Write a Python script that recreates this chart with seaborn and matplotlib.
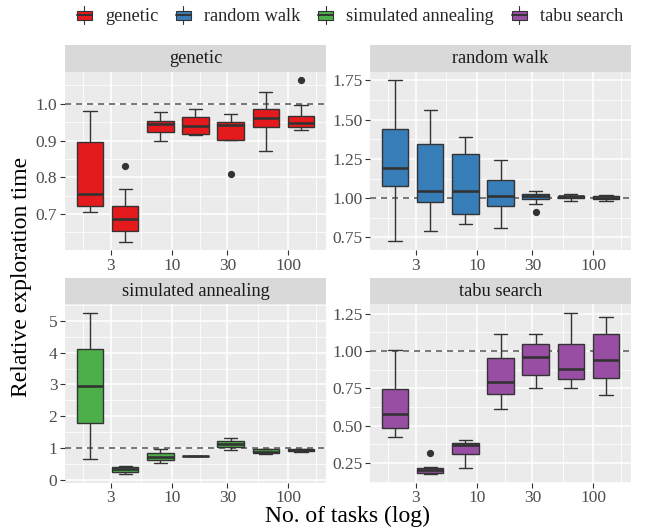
import numpy as np
import pandas as pd
import seaborn as sns
import matplotlib
matplotlib.use("Agg")
import matplotlib.pyplot as plt
import matplotlib.ticker as mticker
from matplotlib.patches import Rectangle
from matplotlib.lines import Line2D
from matplotlib.legend_handler import HandlerBase

# ---------------- data ----------------
tasks = [2, 4, 8, 16, 32, 64, 128]
algorithms = ["genetic", "random walk", "simulated annealing", "tabu search"]
colors = ["#E41A1C", "#377EB8", "#4DAF4A", "#984EA3"]

genetic_lo  = [0.705, 0.625, 0.898, 0.915, 0.902, 0.871, 0.930]
genetic_q1  = [0.722, 0.653, 0.922, 0.918, 0.902, 0.938, 0.938]
genetic_med = [0.755, 0.686, 0.946, 0.940, 0.942, 0.961, 0.949]
genetic_q3  = [0.897, 0.722, 0.954, 0.964, 0.950, 0.986, 0.967]
genetic_hi  = [0.980, 0.768, 0.979, 0.987, 0.972, 1.032, 0.996]
genetic_out = [None, 0.830, None, None, 0.809, None, 1.065]

rw_lo  = [0.725, 0.789, 0.836, 0.808, 0.964, 0.985, 0.983]
rw_q1  = [1.079, 0.974, 0.900, 0.949, 0.996, 1.002, 0.992]
rw_med = [1.192, 1.043, 1.047, 1.013, 1.015, 1.011, 1.002]
rw_q3  = [1.437, 1.347, 1.279, 1.115, 1.024, 1.015, 1.011]
rw_hi  = [1.750, 1.560, 1.390, 1.245, 1.043, 1.028, 1.022]
rw_out = [None, None, None, None, 0.915, None, None]

sa_lo  = [0.65, 0.18, 0.52, 0.74, 0.93, 0.82, 0.89]
sa_q1  = [1.80, 0.25, 0.61, 0.74, 1.02, 0.85, 0.905]
sa_med = [2.96, 0.33, 0.73, 0.745, 1.13, 0.89, 0.93]
sa_q3  = [4.12, 0.40, 0.86, 0.75, 1.22, 0.96, 0.96]
sa_hi  = [5.25, 0.44, 0.96, 0.75, 1.31, 0.98, 0.975]
sa_out = [None, None, None, None, None, None, None]

ts_lo  = [0.420, 0.173, 0.214, 0.611, 0.751, 0.751, 0.706]
ts_q1  = [0.483, 0.184, 0.312, 0.712, 0.840, 0.809, 0.820]
ts_med = [0.578, 0.202, 0.369, 0.793, 0.960, 0.879, 0.942]
ts_q3  = [0.748, 0.218, 0.386, 0.955, 1.049, 1.047, 1.115]
ts_hi  = [1.009, 0.225, 0.403, 1.112, 1.115, 1.256, 1.227]
ts_out = [None, 0.319, None, None, None, None, None]

stats = {
    "genetic": (genetic_lo, genetic_q1, genetic_med, genetic_q3, genetic_hi, genetic_out),
    "random walk": (rw_lo, rw_q1, rw_med, rw_q3, rw_hi, rw_out),
    "simulated annealing": (sa_lo, sa_q1, sa_med, sa_q3, sa_hi, sa_out),
    "tabu search": (ts_lo, ts_q1, ts_med, ts_q3, ts_hi, ts_out),
}

y_ticks = {
    "genetic": [0.7, 0.8, 0.9, 1.0],
    "random walk": [0.75, 1.00, 1.25, 1.50, 1.75],
    "simulated annealing": [0, 1, 2, 3, 4, 5],
    "tabu search": [0.25, 0.50, 0.75, 1.00, 1.25],
}
y_fmt = {"genetic": "{:.1f}", "random walk": "{:.2f}",
         "simulated annealing": "{:.0f}", "tabu search": "{:.2f}"}
y_lims = {"genetic": (0.602, 1.0875), "random walk": (0.670, 1.805),
          "simulated annealing": (-0.09, 5.52), "tabu search": (0.117, 1.312)}
x_ticks = [3, 10, 30, 100]
x_ticklabels = ["3", "10", "30", "100"]


def box_sample(lo, q1, med, q3, hi, out):
    # 9 observations whose quartiles (linear interpolation) equal the read values
    if out is None:
        return [lo, q1, q1, med, med, med, q3, q3, hi]
    if out > hi:
        return [lo, q1, q1, med, med, med, q3, hi, out]
    return [out, lo, q1, med, med, med, q3, q3, hi]


rows = []
for alg in algorithms:
    lo, q1, med, q3, hi, out = stats[alg]
    for i, t in enumerate(tasks):
        for v in box_sample(lo[i], q1[i], med[i], q3[i], hi[i], out[i]):
            rows.append({"algorithm": alg, "tasks": t, "value": v})
df = pd.DataFrame(rows)

# ---------------- styling ----------------
sns.set_theme(style="darkgrid")
plt.rcParams["font.family"] = ["Liberation Serif", "DejaVu Serif"]

fig = plt.figure(figsize=(6.46, 5.29), dpi=100)
positions = {
    "genetic": [0.1006, 0.5274, 0.4040, 0.3371],
    "random walk": [0.5728, 0.5274, 0.4040, 0.3371],
    "simulated annealing": [0.1006, 0.0875, 0.4040, 0.3371],
    "tabu search": [0.5728, 0.0875, 0.4040, 0.3371],
}
minor_x = [10 ** v for v in (0.2386, 0.7386, 1.2386, 1.7386, 2.2386)]
tick_size = 12.5
strip_px = 26.6

for alg, col in zip(algorithms, colors):
    ax = fig.add_axes(positions[alg])
    sub = df[df["algorithm"] == alg]
    sns.boxplot(data=sub, x="tasks", y="value", native_scale=True,
                log_scale=(True, False), color=col, saturation=1,
                width=0.75, linecolor="#333333", linewidth=1.0,
                fliersize=4.2,
                flierprops=dict(marker="o", markerfacecolor="#333333",
                                markeredgecolor="#333333"),
                medianprops=dict(linewidth=1.9, color="#333333"),
                ax=ax, zorder=2)
    ax.axhline(1.0, color="#555555", lw=1.1, ls=(0, (4, 3.2)), zorder=1.5)
    ax.set_facecolor("#EBEBEB")
    for s in ax.spines.values():
        s.set_visible(False)
    ax.set_xscale("log")
    ax.set_xlim(10 ** 0.0866, 10 ** 2.3216)
    ax.set_ylim(*y_lims[alg])
    ax.xaxis.set_major_locator(mticker.FixedLocator(x_ticks))
    ax.xaxis.set_major_formatter(mticker.FixedFormatter(x_ticklabels))
    ax.xaxis.set_minor_locator(mticker.FixedLocator(minor_x))
    ax.xaxis.set_minor_formatter(mticker.NullFormatter())
    yt = y_ticks[alg]
    ax.yaxis.set_major_locator(mticker.FixedLocator(yt))
    ax.yaxis.set_major_formatter(mticker.FixedFormatter([y_fmt[alg].format(v) for v in yt]))
    step = yt[1] - yt[0]
    ax.yaxis.set_minor_locator(mticker.FixedLocator(
        [yt[0] - step / 2] + [v + step / 2 for v in yt]))
    ax.grid(True, which="major", color="white", lw=1.1)
    ax.grid(True, which="minor", color="white", lw=0.55)
    ax.set_axisbelow(True)
    ax.tick_params(which="major", length=3.5, width=0.8, color="#333333",
                   labelsize=tick_size, labelcolor="#4D4D4D", pad=2,
                   bottom=True, left=True)
    ax.tick_params(which="minor", length=0)
    ax.set_xlabel("")
    ax.set_ylabel("")
    # facet strip
    ax_h_px = positions[alg][3] * 529
    h = strip_px / ax_h_px
    ax.add_patch(Rectangle((0, 1), 1, h, transform=ax.transAxes,
                           facecolor="#D9D9D9", edgecolor="none", clip_on=False))
    ax.text(0.5, 1 + h / 2, alg, transform=ax.transAxes, ha="center",
            va="center", fontsize=13.2, color="#1A1A1A")

fig.text(0.5372, 0.024, "No. of tasks (log)", ha="center", va="center",
         fontsize=17, color="black")
fig.text(0.034, 0.477, "Relative exploration time", ha="center", va="center",
         rotation=90, fontsize=17, color="black")


class BoxKey(HandlerBase):
    def create_artists(self, legend, orig_handle, xdescent, ydescent,
                       width, height, fontsize, trans):
        x0, y0 = -xdescent, -ydescent
        fc = orig_handle.get_facecolor()
        cx = x0 + width / 2
        arts = [
            Line2D([cx, cx], [y0, y0 + 0.25 * height], color="#333333", lw=0.8, transform=trans),
            Line2D([cx, cx], [y0 + 0.75 * height, y0 + height], color="#333333", lw=0.8, transform=trans),
            Rectangle((x0 + 0.1 * width, y0 + 0.25 * height), 0.8 * width, 0.5 * height,
                      facecolor=fc, edgecolor="#333333", lw=0.8, transform=trans),
            Line2D([x0 + 0.1 * width, x0 + 0.9 * width], [y0 + 0.5 * height] * 2,
                   color="#333333", lw=1.4, transform=trans),
        ]
        return arts


handles = [Rectangle((0, 0), 1, 1, facecolor=c) for c in colors]
fig.legend(handles, algorithms, loc="center", bbox_to_anchor=(0.5400, 0.970),
           ncol=4, frameon=False, fontsize=13.2, handlelength=1.05,
           handleheight=1.1, handletextpad=0.6, columnspacing=0.85,
           handler_map={h: BoxKey() for h in handles})

fig.savefig("out.png", dpi=100)
